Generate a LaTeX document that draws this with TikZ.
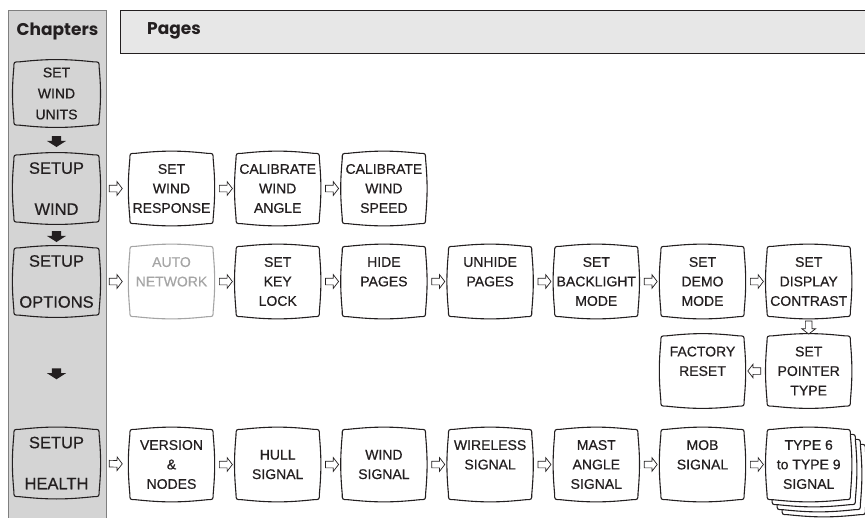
\documentclass[tikz,border=0pt]{standalone}
\usepackage{fontspec}
\setmainfont{Liberation Sans}[FakeBold=0.6]
\newfontfamily\headfont{Poppins}
\usetikzlibrary{shapes.arrows,backgrounds}
\definecolor{Ink}{HTML}{231F20}
\definecolor{ChapterFill}{HTML}{D4D4D4}
\definecolor{ChapterEdge}{HTML}{7F7F7F}
\definecolor{PagesFill}{HTML}{E7E7E7}
\definecolor{Hidden}{HTML}{A5A5A5}

\newcommand\tvframe[2][]{%
  \draw[frame,#1] ([yshift=-6pt]#2.north west) .. controls (#2.north west) .. ([xshift=6pt]#2.north west)
    to[bend left=6] ([xshift=-6pt]#2.north east) .. controls (#2.north east) .. ([yshift=-6pt]#2.north east)
    to[bend left=5] ([yshift=6pt]#2.south east) .. controls (#2.south east) .. ([xshift=-6pt]#2.south east)
    to[bend left=6] ([xshift=6pt]#2.south west) .. controls (#2.south west) .. ([yshift=6pt]#2.south west)
    to[bend left=5] ([yshift=-6pt]#2.north west) -- cycle;}

\begin{document}
\begin{tikzpicture}[x=1pt,y=-1pt,
    page/.style={minimum width=83pt,minimum height=70pt,inner sep=0pt,align=center,text=Ink,font=\fontsize{14}{19.5}\selectfont},
    chapter/.style={page,minimum width=85pt,minimum height=67pt,font=\fontsize{16.5}{20.5}\selectfont},
    frame/.style={draw=Ink,line width=1.1pt},
    openarrow/.style={single arrow,draw=Ink,fill=white,line width=0.7pt,inner xsep=0pt,inner ysep=3pt,minimum height=13pt,single arrow head extend=3.5pt,single arrow tip angle=105,sloped,allow upside down},
    downarrow/.style={single arrow,fill=Ink,inner xsep=0pt,inner ysep=4.5pt,minimum height=11pt,single arrow head extend=5pt,single arrow tip angle=115,sloped,allow upside down}]
        \useasboundingbox (0,0) rectangle (865,517);
        \node[font=\headfont\bfseries\fontsize{17}{20}\selectfont,text=Ink] (chapters) at (57.5,31) {Chapters};
        \node[font=\headfont\bfseries\fontsize{17}{20}\selectfont,text=Ink] (pages) at (174,31) {Pages};
        \node[chapter,minimum height=63pt,font=\fontsize{14}{21}\selectfont] (units) at (56.5,93.5) {SET\\WIND\\UNITS};
        \node[chapter] (wind) at (56.5,188.5) {SETUP\\[20.5pt]WIND};
        \node[chapter] (options) at (56.5,281.5) {SETUP\\[20.5pt]OPTIONS};
        \node[chapter] (health) at (56.5,463) {SETUP\\[20.5pt]HEALTH};
        \node[page] (wresp) at (171.5,188.5) {SET\\WIND\\RESPONSE};
        \node[page] (wangle) at (277.7,188.5) {CALIBRATE\\WIND\\ANGLE};
        \node[page] (wspeed) at (383.9,188.5) {CALIBRATE\\WIND\\SPEED};
        \node[page,text=Hidden] (autonet) at (171.5,281.5) {AUTO\\NETWORK\\\mbox{}};
        \node[page] (keylock) at (277.7,281.5) {SET\\KEY\\LOCK};
        \node[page] (hide) at (383.9,281.5) {HIDE\\PAGES\\\mbox{}};
        \node[page] (unhide) at (490.1,281.5) {UNHIDE\\PAGES\\\mbox{}};
        \node[page] (backlight) at (596.3,281.5) {SET\\BACKLIGHT\\MODE};
        \node[page] (demo) at (702.5,281.5) {SET\\DEMO\\MODE};
        \node[page] (contrast) at (808.7,281.5) {SET\\DISPLAY\\CONTRAST};
        \node[page] (pointer) at (808.7,371) {SET\\POINTER\\TYPE};
        \node[page] (factory) at (702.5,371) {FACTORY\\RESET\\\mbox{}};
        \node[page] (version) at (171.5,464.5) {VERSION\\\&\\NODES};
        \node[page] (hull) at (277.7,464.5) {HULL\\SIGNAL};
        \node[page] (windsig) at (383.9,464.5) {WIND\\SIGNAL};
        \node[page] (wireless) at (490.1,464.5) {WIRELESS\\SIGNAL\\\mbox{}};
        \node[page] (mast) at (596.3,464.5) {MAST\\ANGLE\\SIGNAL};
        \node[page] (mob) at (702.5,464.5) {MOB\\SIGNAL\\\mbox{}};
        \node[page] (types) at (808.7,464.5) {TYPE 6\\to TYPE 9\\SIGNAL};
        \foreach \k in {1,2,3}
          \node[page] (types\k) at ([shift={(\k*5pt,-\k*5pt)}]types.center) {};
        \begin{pgfonlayer}{background}
          \fill[ChapterFill] (8,10) rectangle (106,522);
          \draw[ChapterEdge,line width=1pt] (8,522) -- (8,10) -- (106,10) -- (106,522);
          \fill[PagesFill] (120,10) rectangle (870,53);
          \draw[Ink,line width=1pt] (870,10) -- (120,10) -- (120,53) -- (870,53);
          \foreach \n in {units,wind,options,health,wresp,wangle,wspeed,keylock,hide,unhide,backlight,demo,contrast,pointer,factory,version,hull,windsig,wireless,mast,mob}
            {\tvframe{\n}}
          \tvframe[draw=Hidden]{autonet}
          \foreach \n in {types3,types2,types1,types}
            {\tvframe[fill=white]{\n}}
        \end{pgfonlayer}
        \path (units) -- node[downarrow] {} (wind);
        \path (wind) -- node[downarrow] {} (options);
        \path (options) -- node[downarrow] {} (health);
        \foreach \a/\b in {wind/wresp,wresp/wangle,wangle/wspeed,options/autonet,autonet/keylock,keylock/hide,hide/unhide,unhide/backlight,backlight/demo,demo/contrast,contrast/pointer,pointer/factory,health/version,version/hull,hull/windsig,windsig/wireless,wireless/mast,mast/mob,mob/types}
          \path (\a) -- node[openarrow] {} (\b);
      \end{tikzpicture}
\end{document}
